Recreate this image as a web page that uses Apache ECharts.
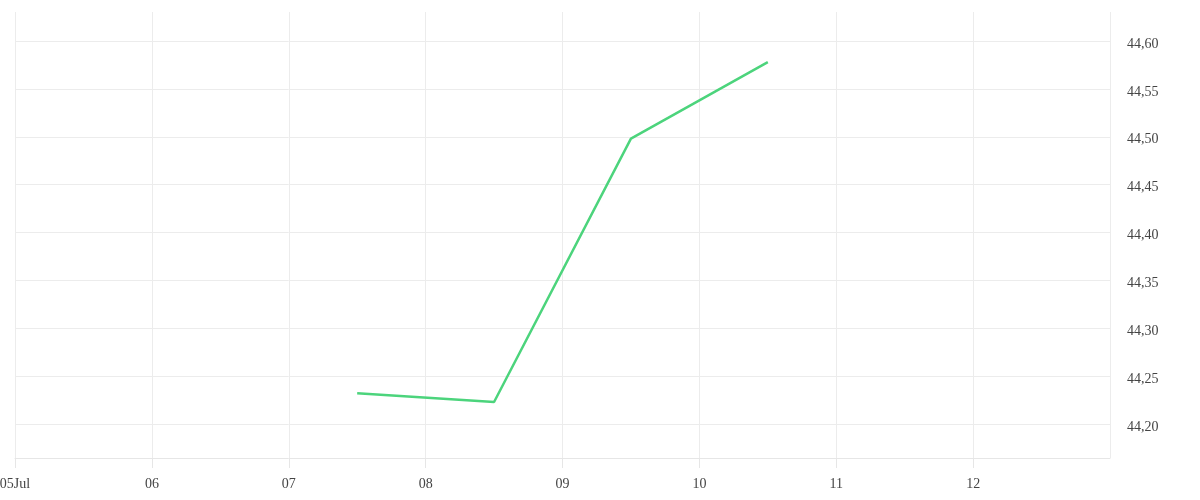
<!DOCTYPE html>
<html>
<head>
<meta charset="utf-8">
<script src="https://cdn.jsdelivr.net/npm/echarts@6/dist/echarts.min.js"></script>
<style>html,body{margin:0;padding:0;background:#fff}#c{width:1200px;height:500px}</style>
</head>
<body>
<div id="c"></div>
<script>
const dates = ['2024-07-07T12:00:00Z', '2024-07-08T12:00:00Z', '2024-07-09T12:00:00Z', '2024-07-10T12:00:00Z'];
const values = [44.232, 44.223, 44.498, 44.578];
const yTicks = [44.20, 44.25, 44.30, 44.35, 44.40, 44.45, 44.50, 44.55, 44.60];
const xStart = '2024-07-05T00:00:00Z';
const xEnd = '2024-07-13T00:00:00Z';

const DAY = 86400000;
const xMin = Date.parse(xStart), xMax = Date.parse(xEnd);
const chart = echarts.init(document.getElementById('c'));
const font = '"Liberation Serif", serif';
chart.setOption({
  animation: false,
  grid: { left: 15, right: 90, top: 12, bottom: 42, containLabel: false, outerBoundsMode: 'none' },
  xAxis: {
    type: 'value',
    min: xMin, max: xMax, interval: DAY,
    axisLine: { show: true, onZero: false, lineStyle: { color: '#e6e6e6' } },
    axisTick: { show: true, inside: false, length: 10, lineStyle: { color: '#e6e6e6', width: 1 } },
    splitLine: { show: true, lineStyle: { color: '#ececec' } },
    axisLabel: {
      margin: 19, color: '#444', fontFamily: font, fontSize: 14, showMaxLabel: false,
      formatter: function (v) {
        const d = new Date(v);
        const dd = String(d.getUTCDate()).padStart(2, '0');
        return v === xMin ? dd + 'Jul' : dd;
      }
    }
  },
  yAxis: {
    type: 'value', position: 'right',
    min: 44.1645, max: 44.6303,
    axisLine: { show: false },
    axisTick: { show: false, customValues: yTicks },
    splitLine: { show: true, lineStyle: { color: '#ececec' } },
    axisLabel: {
      customValues: yTicks, margin: 17, color: '#444', fontFamily: font, fontSize: 14,
      formatter: function (v) { return '{a|' + v.toFixed(2).replace('.', ',') + '}'; },
      rich: { a: { fontFamily: font, fontSize: 14, color: '#444', padding: [6, 0, 0, 0] } }
    }
  },
  series: [{
    type: 'line',
    data: dates.map((d, i) => [Date.parse(d), values[i]]),
    showSymbol: false,
    lineStyle: { color: '#4cd47c', width: 2.5 },
    itemStyle: { color: '#4cd47c' }
  }]
});
</script>
</body>
</html>
